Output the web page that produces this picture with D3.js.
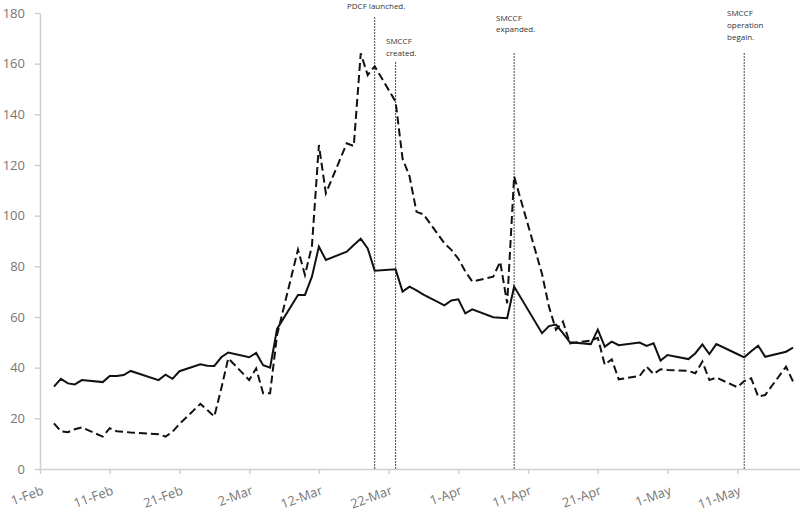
<!DOCTYPE html>
<html>
<head>
<meta charset="utf-8">
<script src="https://cdn.jsdelivr.net/npm/d3@7"></script>
<style>
  body { margin: 0; background: #fff; }
  text { font-family: "Open Sans", sans-serif; }
</style>
</head>
<body>
<div id="chart"></div>
<script>
// business days, 2020
var days = [
  "2020-02-03","2020-02-04","2020-02-05","2020-02-06","2020-02-07",
  "2020-02-10","2020-02-11","2020-02-12","2020-02-13","2020-02-14",
  "2020-02-18","2020-02-19","2020-02-20","2020-02-21",
  "2020-02-24","2020-02-25","2020-02-26","2020-02-27","2020-02-28",
  "2020-03-02","2020-03-03","2020-03-04","2020-03-05","2020-03-06",
  "2020-03-09","2020-03-10","2020-03-11","2020-03-12","2020-03-13",
  "2020-03-16","2020-03-17","2020-03-18","2020-03-19","2020-03-20",
  "2020-03-23","2020-03-24","2020-03-25","2020-03-26","2020-03-27",
  "2020-03-30","2020-03-31","2020-04-01","2020-04-02","2020-04-03",
  "2020-04-06","2020-04-07","2020-04-08","2020-04-09",
  "2020-04-13","2020-04-14","2020-04-15","2020-04-16","2020-04-17",
  "2020-04-20","2020-04-21","2020-04-22","2020-04-23","2020-04-24",
  "2020-04-27","2020-04-28","2020-04-29","2020-04-30","2020-05-01",
  "2020-05-04","2020-05-05","2020-05-06","2020-05-07","2020-05-08",
  "2020-05-11","2020-05-12","2020-05-13","2020-05-14","2020-05-15",
  "2020-05-18","2020-05-19"
];

var solidSeries = [
  32.5, 35.6, 33.8, 33.4, 35.1,
  34.3, 36.7, 36.7, 37.1, 38.7,
  35.1, 37.2, 35.6, 38.6,
  41.3, 40.8, 40.7, 44.1, 46.0,
  44.1, 45.8, 41.0, 40.0, 55.3,
  68.7, 68.7, 75.9, 87.8, 82.5,
  85.8, 88.4, 90.9, 87.1, 78.3,
  78.8, 70.0, 72.0, 70.5, 68.8,
  64.6, 66.5, 67.0, 61.4, 63.0,
  59.9, 59.7, 59.5, 72.0,
  53.6, 56.4, 57.0, 53.6, 50.0,
  49.3, 55.0, 48.3, 50.3, 48.9,
  49.9, 48.6, 49.6, 42.8, 45.0,
  43.4, 45.7, 49.2, 45.4, 49.3,
  45.4, 44.1, 46.5, 48.7, 44.3,
  46.3, 47.9
];

var dashedSeries = [
  18.0, 14.9, 14.5, 15.7, 16.4,
  12.8, 16.1, 14.9, 14.7, 14.4,
  13.7, 12.8, 14.7, 17.8,
  25.7, 23.3, 20.7, 31.8, 43.7,
  35.1, 39.7, 29.9, 29.9, 52.9,
  86.6, 76.6, 88.0, 127.9, 108.8,
  128.6, 127.5, 164.1, 155.5, 159.0,
  145.0, 122.5, 115.5, 101.5, 100.5,
  89.1, 86.5, 83.0, 78.0, 74.0,
  75.9, 81.8, 65.4, 115.5,
  77.0, 64.0, 55.0, 58.2, 49.6,
  50.7, 51.8, 41.2, 43.3, 35.4,
  36.7, 40.4, 37.5, 39.4, 39.1,
  38.7, 37.8, 42.4, 35.1, 36.1,
  32.3, 34.7, 35.8, 28.6, 29.2,
  40.4, 34.5
];

var xTicks = ["2020-02-01","2020-02-11","2020-02-21","2020-03-02","2020-03-12","2020-03-22",
              "2020-04-01","2020-04-11","2020-04-21","2020-05-01","2020-05-11"];
var yTicks = [0, 20, 40, 60, 80, 100, 120, 140, 160, 180];

// vertical markers
var eventDays = ["2020-03-20", "2020-03-23", "2020-04-09", "2020-05-12"];
var eventLabels = [["PDCF launched."], ["SMCCF", "created."], ["SMCCF", "expanded."], ["SMCCF", "operation", "begain."]];
var eventTops = [17, 62, 53, 53];
var labelPos = [[347, 8.5], [386, 44], [496, 20.5], [727, 16]];

var parse = d3.timeParse("%Y-%m-%d");
var width = 800, height = 515;

var svg = d3.select("#chart").append("svg")
    .attr("width", width)
    .attr("height", height);

var xScale = d3.scaleTime()
    .domain([parse("2020-02-01"), parse("2020-05-20")])
    .range([40, 800]);
var yScale = d3.scaleLinear().domain([0, 180]).range([469, 13]);

var axisColor = "#d0d0d0", labelColor = "#767676";

var yAxisGroup = svg.append("g").attr("transform", "translate(40,0)")
    .call(d3.axisLeft(yScale).tickValues(yTicks).tickSize(5).tickSizeOuter(0).tickPadding(10));
var xAxisGroup = svg.append("g").attr("transform", "translate(0,469)")
    .call(d3.axisBottom(xScale).tickValues(xTicks.map(parse)).tickSize(5).tickSizeOuter(0)
          .tickFormat(d3.timeFormat("%-d-%b")));

[yAxisGroup, xAxisGroup].forEach(function(g) {
  g.select(".domain").attr("stroke", axisColor).attr("stroke-width", 1.5);
  g.selectAll(".tick line").attr("stroke", axisColor).attr("stroke-width", 1.5);
  g.selectAll(".tick text").attr("fill", labelColor).style("font-size", "13px")
    .style("font-family", "'Open Sans', sans-serif");
});

xAxisGroup.selectAll(".tick text")
    .attr("x", 0).attr("y", 0).attr("dy", null)
    .attr("text-anchor", "end")
    .attr("transform", "translate(4,25) rotate(-20)");

// event lines
eventDays.forEach(function(d, i) {
  svg.append("line")
    .attr("x1", xScale(parse(d))).attr("x2", xScale(parse(d)))
    .attr("y1", eventTops[i]).attr("y2", yScale(0))
    .attr("stroke", "#333").attr("stroke-width", 0.9)
    .attr("stroke-dasharray", "2,1");
  var t = svg.append("text")
    .attr("x", labelPos[i][0]).attr("y", labelPos[i][1])
    .attr("fill", "#333").style("font-size", "8px");
  eventLabels[i].forEach(function(s, j) {
    t.append("tspan").attr("x", labelPos[i][0]).attr("dy", j === 0 ? 0 : 11.8).text(s);
  });
});

var rows = days.map(function(d, i) {
  return {date: parse(d), solid: solidSeries[i], dashed: dashedSeries[i]};
});

var solidLine = d3.line().x(function(d) { return xScale(d.date); }).y(function(d) { return yScale(d.solid); });
var dashedLine = d3.line().x(function(d) { return xScale(d.date); }).y(function(d) { return yScale(d.dashed); });

svg.append("path").datum(rows)
    .attr("d", dashedLine)
    .attr("fill", "none").attr("stroke", "#111").attr("stroke-width", 2)
    .attr("stroke-dasharray", "8,4");

svg.append("path").datum(rows)
    .attr("d", solidLine)
    .attr("fill", "none").attr("stroke", "#111").attr("stroke-width", 2)
    .attr("stroke-linejoin", "miter");
</script>
</body>
</html>
